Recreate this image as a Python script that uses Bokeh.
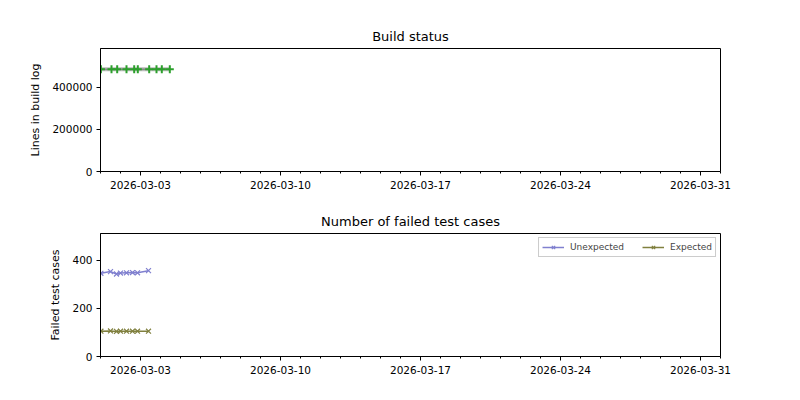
from datetime import datetime
import pandas as pd
from bokeh.plotting import figure
from bokeh.layouts import column
from bokeh.models import (Range1d, FixedTicker, DatetimeTickFormatter, BasicTickFormatter,
                          Legend, LegendItem)
from bokeh.embed import file_html
from bokeh.resources import INLINE

# ---- data ----
build_dates = ["2026-03-01 00:30", "2026-03-01 13:12", "2026-03-01 20:02", "2026-03-02 07:12",
               "2026-03-02 16:26", "2026-03-02 20:46", "2026-03-03 10:26", "2026-03-03 19:12",
               "2026-03-04 01:34", "2026-03-04 11:10"]
build_lines = [486000, 486000, 486000, 486000, 486000, 486000, 486000, 486000, 486000, 486000]

test_dates = ["2026-03-01 00:30", "2026-03-01 12:00", "2026-03-01 19:12", "2026-03-02 00:00",
              "2026-03-02 07:12", "2026-03-02 14:24", "2026-03-02 20:24", "2026-03-03 09:36"]
unexpected = [345, 352, 342, 346, 347, 348, 347, 356]
expected = [105, 106, 104, 105, 105, 105, 105, 105]

major_ticks = ["2026-03-03", "2026-03-10", "2026-03-17", "2026-03-24", "2026-03-31"]
x_start = "2026-03-01"
x_end = "2026-04-01"
top_yticks = [0, 200000, 400000]
bottom_yticks = [0, 200, 400]
top_ymax = 585000
bottom_ymax = 510

FONT = "DejaVu Sans"


def ms(s):
    return pd.Timestamp(s).value / 1e6


bd = pd.to_datetime(build_dates)
td = pd.to_datetime(test_dates)
major_ms = [ms(t) for t in major_ticks]
minor_ms = [ms(t) for t in pd.date_range("2026-03-01", "2026-04-01", freq="D")]


def style(p, yticks, ylabel, title):
    p.title.text = title
    p.title.align = "center"
    p.title.text_font = FONT
    p.title.text_font_size = "13px"
    p.title.text_font_style = "normal"
    p.title.text_color = "black"
    p.title.offset = 0
    p.xgrid.visible = False
    p.ygrid.visible = False
    p.outline_line_color = "black"
    p.outline_line_alpha = 1
    p.outline_line_width = 1
    xa = p.xaxis[0]
    xa.ticker = FixedTicker(ticks=major_ms, minor_ticks=minor_ms)
    fmt = "%Y-%m-%d"
    xa.formatter = DatetimeTickFormatter(microseconds=fmt, milliseconds=fmt, seconds=fmt,
                                         minsec=fmt, minutes=fmt, hourmin=fmt, hours=fmt,
                                         days=fmt, months=fmt, years=fmt)
    ya = p.yaxis[0]
    ya.ticker = FixedTicker(ticks=yticks, minor_ticks=[])
    ya.formatter = BasicTickFormatter(use_scientific=False)
    ya.axis_label = ylabel
    for ax in (xa, ya):
        ax.major_label_text_font = FONT
        ax.major_label_text_font_size = "10.5px"
        ax.major_label_text_color = "black"
        ax.axis_label_text_font = FONT
        ax.axis_label_text_font_size = "11px"
        ax.axis_label_text_font_style = "normal"
        ax.axis_label_text_color = "black"
        ax.axis_line_color = "black"
        ax.major_tick_line_color = "black"
        ax.minor_tick_line_color = "black"
        ax.major_tick_out = 4
        ax.major_tick_in = 0
        ax.minor_tick_out = 2
        ax.minor_tick_in = 0
        ax.major_label_standoff = 4
    xa.major_label_standoff = 5
    ya.axis_label_standoff = 7
    p.background_fill_color = "white"
    p.border_fill_color = "white"


common = dict(width=784, output_backend="svg", toolbar_location=None,
              x_axis_type="datetime", min_border_left=100, min_border_right=64)

p1 = figure(x_range=Range1d(ms(x_start), ms(x_end)), y_range=Range1d(0, top_ymax),
            height=200, min_border_top=48, min_border_bottom=29, **common)
style(p1, top_yticks, "Lines in build log", "Build status")
p1.line(bd, build_lines, line_color="#aaaaaa", line_width=4, line_alpha=0.8)
p1.line(bd, build_lines, line_color="#888888", line_width=1.5)
p1.scatter(bd, build_lines, marker="cross", size=8, line_color="#2ca02c", line_width=2)

p2 = figure(x_range=p1.x_range, y_range=Range1d(0, bottom_ymax),
            height=192, min_border_top=33, min_border_bottom=36, **common)
style(p2, bottom_yticks, "Failed test cases", "Number of failed test cases")
c_u = "#8080cf"
c_e = "#80803f"
lu = p2.line(td, unexpected, line_color=c_u, line_width=1.5)
mu = p2.scatter(td, unexpected, marker="x", size=7, line_color=c_u, line_width=1.2)
le = p2.line(td, expected, line_color=c_e, line_width=1.5)
me = p2.scatter(td, expected, marker="x", size=7, line_color=c_e, line_width=1.2)
legend = Legend(items=[LegendItem(label="Unexpected", renderers=[lu, mu]),
                       LegendItem(label="Expected", renderers=[le, me])],
                orientation="horizontal", location="top_right",
                label_text_font=FONT, label_text_font_size="9px",
                glyph_width=22, glyph_height=12, label_height=10, label_standoff=6,
                spacing=18, padding=3, margin=4,
                border_line_color="#cccccc", border_line_alpha=1,
                background_fill_alpha=0.8)
p2.add_layout(legend)

layout = column(p1, p2, spacing=0)
open("out.html", "w").write(file_html(layout, INLINE))
